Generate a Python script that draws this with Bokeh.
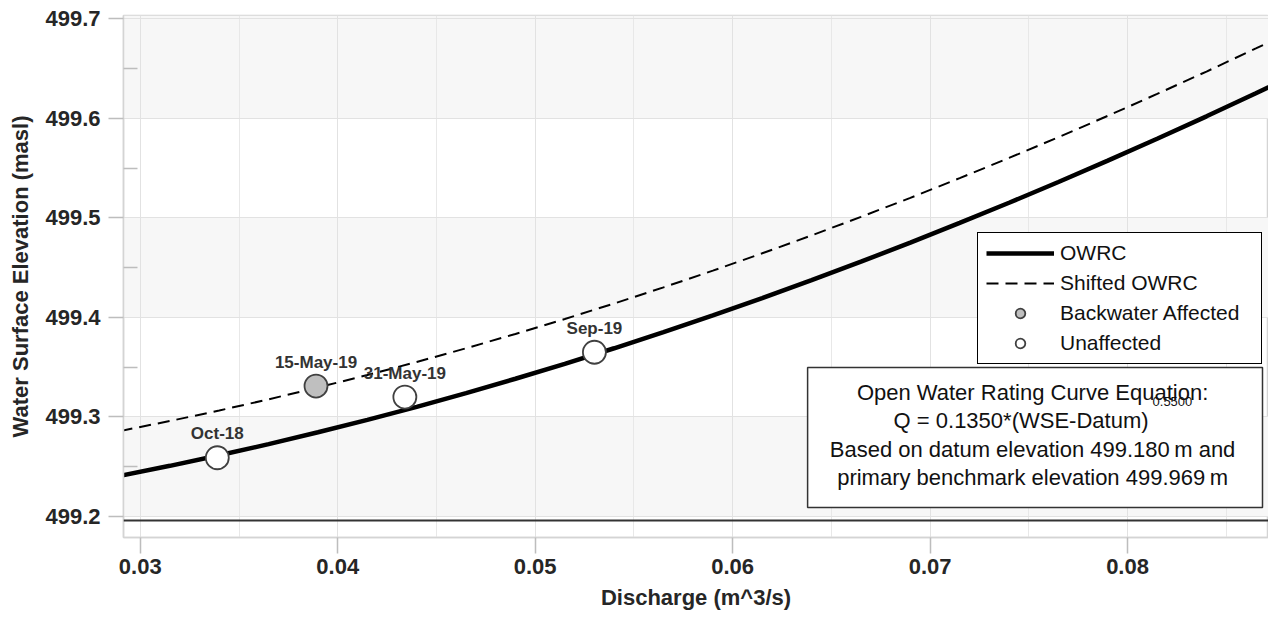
from bokeh.plotting import figure
from bokeh.models import (ColumnDataSource, Legend, LegendItem, Span, BoxAnnotation,
                          Label, FixedTicker, PrintfTickFormatter)
from bokeh.core.properties import value
from bokeh.embed import file_html
from bokeh.resources import INLINE

# ---------------- data ----------------
discharge = [0.029, 0.0315, 0.034, 0.0365, 0.039, 0.0415, 0.044, 0.0465, 0.049,
             0.0515, 0.054, 0.0565, 0.059, 0.0615, 0.064, 0.0665, 0.069, 0.0715,
             0.074, 0.0765, 0.079, 0.0815, 0.084, 0.0865, 0.089]
owrc_wse = [499.2410, 499.2509, 499.2615, 499.2727, 499.2846, 499.2971, 499.3102,
            499.3240, 499.3384, 499.3534, 499.3690, 499.3852, 499.4020, 499.4194,
            499.4374, 499.4560, 499.4751, 499.4949, 499.5152, 499.5360, 499.5575,
            499.5795, 499.6020, 499.6252, 499.6488]
shifted_wse = [499.2860, 499.2959, 499.3065, 499.3177, 499.3296, 499.3421, 499.3552,
               499.3690, 499.3834, 499.3984, 499.4140, 499.4302, 499.4470, 499.4644,
               499.4824, 499.5010, 499.5201, 499.5399, 499.5602, 499.5810, 499.6025,
               499.6245, 499.6470, 499.6702, 499.6938]

obs_labels = ["Oct-18", "15-May-19", "31-May-19", "Sep-19"]
obs_q = [0.0339, 0.0389, 0.0434, 0.0530]
obs_wse = [499.259, 499.331, 499.320, 499.365]
obs_backwater = [False, True, False, False]

x_ticks = [0.03, 0.04, 0.05, 0.06, 0.07, 0.08]
x_minor = [0.035, 0.045, 0.055, 0.065, 0.075, 0.085]
y_ticks = [499.2, 499.3, 499.4, 499.5, 499.6, 499.7]
y_minor = [499.25, 499.35, 499.45, 499.55, 499.65]

band_bottoms = [499.2, 499.4, 499.6]
band_tops = [499.3, 499.5, None]
base_level = 499.196

legend_labels = ["OWRC", "Shifted OWRC", "Backwater Affected", "Unaffected"]
eq_lines = ["Open Water Rating Curve Equation:",
            "Q = 0.1350*(WSE-Datum)",
            "Based on datum elevation 499.180\u2009m and",
            "primary benchmark elevation 499.969\u2009m"]
eq_exponent = "0.5500"

FONT = "Liberation Sans"
DARK = "#262626"

# ---------------- figure ----------------
p = figure(width=1268, height=617,
           x_range=(0.02915, 0.087139), y_range=(499.1789, 499.7033),
           output_backend="svg", toolbar_location=None,
           min_border_left=123, min_border_right=0, min_border_top=15,
           min_border_bottom=80)
p.background_fill_color = "white"
p.border_fill_color = "white"
p.outline_line_color = "#d4d4d4"
p.outline_line_width = 1.5

# alternating bands
for b, t in zip(band_bottoms, band_tops):
    kw = dict(bottom=b, fill_color="#f7f7f7", fill_alpha=1.0,
              line_color=None, level="image")
    if t is not None:
        kw["top"] = t
    p.add_layout(BoxAnnotation(**kw))

# axes
xa = p.xaxis[0]
xa.ticker = FixedTicker(ticks=x_ticks, minor_ticks=x_minor)
xa.formatter = PrintfTickFormatter(format="%.2f")
xa.axis_label = "Discharge (m^3/s)"
ya = p.yaxis[0]
ya.ticker = FixedTicker(ticks=y_ticks, minor_ticks=y_minor)
ya.formatter = PrintfTickFormatter(format="%.1f")
ya.axis_label = "Water Surface Elevation (masl)"

for ax in (xa, ya):
    ax.major_label_text_font = FONT
    ax.major_label_text_font_style = "bold"
    ax.major_label_text_font_size = "22px"
    ax.major_label_text_color = DARK
    ax.axis_label_text_font = FONT
    ax.axis_label_text_font_style = "bold"
    ax.axis_label_text_font_size = "22px"
    ax.axis_label_text_color = DARK
    ax.axis_line_color = "#d4d4d4"
    ax.axis_line_width = 1.5
    ax.major_tick_line_color = "#bdbdbd"
    ax.major_tick_line_width = 1.5
    ax.major_tick_in = 0
    ax.major_tick_out = 15
    ax.minor_tick_line_color = "#bdbdbd"
    ax.minor_tick_line_width = 1.5

xa.minor_tick_in = 0
xa.minor_tick_out = 0
xa.major_tick_out = 16
xa.major_label_standoff = 5
xa.axis_label_standoff = 8
ya.minor_tick_in = 14
ya.minor_tick_out = 0
ya.major_label_standoff = 8
ya.axis_label_standoff = 9

p.xgrid.grid_line_color = "#e2e2e2"
p.xgrid.minor_grid_line_color = "#e8e8e8"
p.ygrid.grid_line_color = "#e2e2e2"

p.add_layout(Span(location=base_level, dimension="width",
                  line_color="#333333", line_width=2))

# curves
r_owrc = p.line(discharge, owrc_wse, line_color="black", line_width=4.5)
r_shift = p.line(discharge, shifted_wse, line_color="black", line_width=2,
                 line_dash="12 7")

# observations
bw_idx = [i for i, f in enumerate(obs_backwater) if f]
un_idx = [i for i, f in enumerate(obs_backwater) if not f]
src_bw = ColumnDataSource(dict(x=[obs_q[i] for i in bw_idx], y=[obs_wse[i] for i in bw_idx]))
src_un = ColumnDataSource(dict(x=[obs_q[i] for i in un_idx], y=[obs_wse[i] for i in un_idx]))
r_bw = p.scatter("x", "y", source=src_bw, size=23, fill_color="#bfbfbf",
                 line_color="#404040", line_width=1.8)
r_un = p.scatter("x", "y", source=src_un, size=23, fill_color="white",
                 line_color="#404040", line_width=1.8)

p.text(x=obs_q, y=obs_wse, text=obs_labels, text_align="center",
       text_baseline="middle", y_offset=-24, text_font=value(FONT),
       text_font_style="bold", text_font_size="17px", text_color="#333333")

# legend
legend = Legend(items=[LegendItem(label=legend_labels[0], renderers=[r_owrc]),
                       LegendItem(label=legend_labels[1], renderers=[r_shift]),
                       LegendItem(label=legend_labels[2], renderers=[r_bw]),
                       LegendItem(label=legend_labels[3], renderers=[r_un])],
                location=(854, 173), glyph_width=68, glyph_height=24,
                label_height=24, label_width=193, spacing=6, padding=8,
                label_standoff=6, margin=0,
                border_line_color="black", border_line_width=1.8,
                border_line_alpha=1.0,
                background_fill_color="white", background_fill_alpha=1.0,
                label_text_font=FONT, label_text_font_size="21px",
                label_text_color="#111111")
p.add_layout(legend)

# equation box
p.add_layout(BoxAnnotation(left=0.063797, right=0.086835, bottom=499.2090, top=499.3497,
                           fill_color="white", fill_alpha=1.0,
                           line_color="#333333", line_alpha=1.0, line_width=1.5))
eq_y = [499.3246, 499.2964, 499.2673, 499.2392]
for i, txt in enumerate(eq_lines):
    if i == 1:
        p.add_layout(Label(x=0.081063, y=eq_y[i], text=txt, text_align="right",
                           text_baseline="middle", text_font=FONT,
                           text_font_size="22px", text_color="#111111"))
    else:
        p.add_layout(Label(x=0.075190, y=eq_y[i], text=txt, text_align="center",
                           text_baseline="middle", text_font=FONT,
                           text_font_size="22px", text_color="#111111"))
p.add_layout(Label(x=0.081266, y=499.3155, text=eq_exponent, text_align="left",
                   text_baseline="middle", text_font=FONT,
                   text_font_size="13px", text_color="#111111"))

open("out.html", "w").write(file_html(p, INLINE))
